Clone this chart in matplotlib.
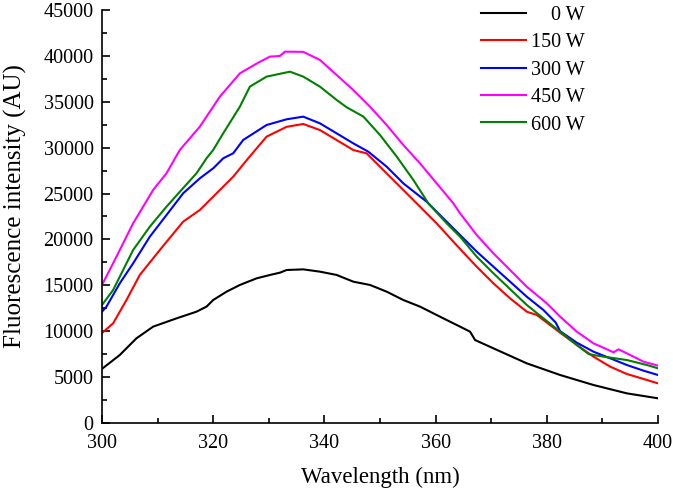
import matplotlib
matplotlib.use('Agg')
import matplotlib.pyplot as plt
from matplotlib.ticker import MultipleLocator

plt.rcParams['font.family'] = ['Liberation Serif', 'DejaVu Serif']

# --- data ---
wl_0 = [300, 303.2, 306.2, 309.2, 313.4, 317.0, 318.8, 320.0, 322.4, 324.8, 327.8, 330.2,
        332.0, 333.2, 336.2, 339.2, 342.2, 345.2, 348.2, 351.2, 354.2, 357.2, 361.4, 364.4,
        366.2, 367.1, 370.4, 376.4, 382.4, 388.4, 394.4, 400]
int_0 = [5900, 7410, 9230, 10500, 11400, 12130, 12680, 13400, 14310, 15040, 15760, 16130,
         16380, 16670, 16740, 16490, 16130, 15400, 15040, 14310, 13400, 12680, 11400, 10500,
         9950, 9040, 8135, 6500, 5230, 4140, 3230, 2690]

wl_150 = [300, 302.0, 304.4, 306.8, 310.4, 314.6, 317.6, 320.0, 323.6, 326.3, 329.6, 333.2,
          336.2, 339.2, 342.2, 345.2, 347.6, 351.2, 354.2, 357.2, 360.2, 363.2, 366.2, 367.4,
          370.4, 373.4, 376.4, 378.2, 382.4, 385.4, 388.4, 391.4, 394.4, 397.4, 400]
int_150 = [9800, 10860, 13400, 16130, 18850, 21940, 23210, 24660, 26840, 28840, 31200, 32270,
           32580, 31920, 30830, 29740, 29380, 27200, 25390, 23570, 21750, 19750, 17800, 17030,
           15220, 13580, 12130, 11770, 9840, 8500, 7230, 6140, 5340, 4800, 4320]

wl_300 = [300, 300.8, 303.2, 305.6, 308.6, 311.6, 314.6, 317.6, 320.0, 321.8, 323.6, 325.4,
          329.6, 333.2, 336.2, 339.2, 342.2, 345.2, 347.9, 351.2, 354.2, 358.4, 362.0, 364.4,
          367.4, 370.4, 376.4, 379.4, 381.6, 382.4, 385.4, 388.4, 391.4, 394.4, 397.4, 400]
int_300 = [12130, 12680, 15220, 17400, 20300, 22660, 25030, 26660, 27750, 28840, 29390, 30840,
           32470, 33090, 33380, 32650, 31560, 30470, 29560, 27930, 26110, 24110, 21930, 20480,
           18670, 17030, 13760, 12310, 10950, 10000, 8750, 7770, 7050, 6320, 5700, 5230]

wl_450 = [300, 302.6, 305.6, 309.2, 311.6, 314.0, 317.6, 321.2, 324.8, 328.1, 330.2, 332.0,
          332.9, 336.2, 339.2, 342.2, 345.2, 348.2, 351.2, 354.2, 357.2, 360.2, 363.2, 364.4,
          367.4, 370.4, 376.4, 380.0, 382.4, 385.4, 388.4, 390.2, 392.0, 392.9, 394.4, 397.4, 400]
int_450 = [15040, 18120, 21760, 25390, 27210, 29750, 32290, 35560, 38100, 39260, 39920, 39990,
           40460, 40440, 39560, 37920, 36280, 34470, 32470, 30290, 28290, 26110, 23930, 22850,
           20480, 18490, 14850, 13040, 11590, 9950, 8680, 8200, 7700, 8030, 7590, 6680, 6250]

wl_600 = [300, 302.0, 305.6, 308.6, 311.6, 314.0, 317.0, 318.8, 320.0, 321.8, 324.8, 326.6,
          329.6, 333.8, 336.2, 339.2, 342.2, 344.0, 347.0, 350.0, 353.0, 356.0, 358.7, 362.0,
          364.4, 367.4, 370.4, 376.4, 379.4, 382.4, 385.4, 387.5, 388.4, 390.2, 394.4, 398.0, 400]
int_600 = [12860, 14490, 18850, 21390, 23570, 25200, 27210, 28840, 29750, 31560, 34470, 36650,
           37740, 38280, 37740, 36650, 35200, 34400, 33390, 31380, 29030, 26480, 23930, 21750,
           20300, 18120, 16310, 12860, 11400, 9950, 8500, 7520, 7410, 7230, 6860, 6320, 5960]

series = [
    (wl_0, int_0, '    0 W', 'black'),
    (wl_150, int_150, '150 W', '#ff0000'),
    (wl_300, int_300, '300 W', '#0000ff'),
    (wl_450, int_450, '450 W', '#ff00ff'),
    (wl_600, int_600, '600 W', '#008000'),
]

fig = plt.figure(figsize=(6.73, 4.9), dpi=100)
ax = fig.add_axes([102 / 673, 1 - 423 / 490, 556 / 673, 413 / 490])

for wl, y, lab, c in series:
    ax.plot(wl, y, color=c, lw=1.5, label=lab)

ax.set_xlim(300, 400)
ax.set_ylim(0, 45000)
ax.xaxis.set_major_locator(MultipleLocator(20))
ax.xaxis.set_minor_locator(MultipleLocator(10))
ax.yaxis.set_major_locator(MultipleLocator(5000))
ax.yaxis.set_minor_locator(MultipleLocator(2500))
ax.tick_params(which='both', direction='in', labelsize=14.5, width=1.2)
ax.tick_params(which='major', length=6)
ax.tick_params(axis='x', which='major', pad=8)
ax.tick_params(axis='y', which='major', pad=6)
ax.tick_params(which='minor', length=3.5)
for s in ['top', 'right']:
    ax.spines[s].set_visible(False)
for s in ['left', 'bottom']:
    ax.spines[s].set_linewidth(1.2)

ax.set_xlabel('Wavelength (nm)', fontsize=16.5, labelpad=10)
ax.set_ylabel('Fluorescence intensity (AU)', fontsize=18, labelpad=12)
ax.yaxis.label.set_y(0.525)

leg = ax.legend(loc='upper left', bbox_to_anchor=(481 / 673, 1 - 6 / 490),
                bbox_transform=fig.transFigure, frameon=False, fontsize=14.5,
                borderpad=0, borderaxespad=0, handlelength=2.25, handletextpad=0.25,
                labelspacing=0.41)

fig.savefig('out.png', dpi=100)
